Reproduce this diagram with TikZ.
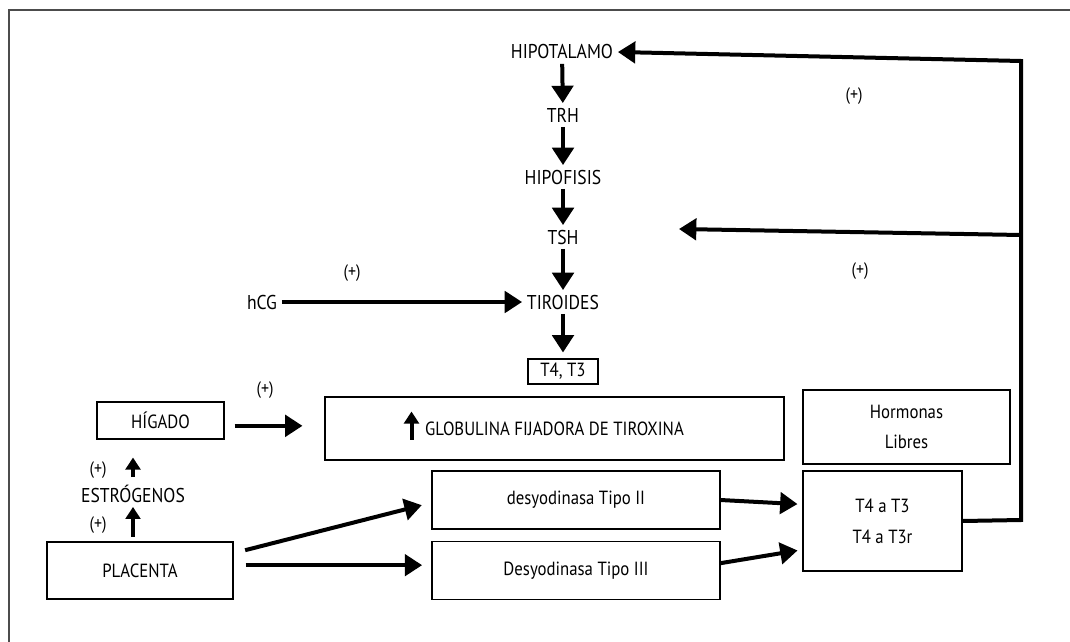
\documentclass[tikz,border=0pt]{standalone}
\usepackage{fontspec}
\setmainfont[FakeStretch=0.88]{PT Sans}
\usetikzlibrary{arrows.meta, positioning, calc}

\begin{document}
\begin{tikzpicture}[
        x=0.75pt, y=-0.75pt,
        >={Triangle[length=13pt,width=16pt]},
        box/.style={
            rectangle,
            draw,
            line width=0.8pt,
            align=center,
            font=\fontsize{14.3}{23}\selectfont
        },
        word/.style={
            inner sep=3.5pt,
            text height=10.5pt,
            text depth=0pt,
            font=\fontsize{15}{18}\selectfont
        },
        sign/.style={font=\fontsize{13.5}{16}\selectfont},
        fat/.style={->, line width=3pt},
        small/.style={-{Triangle[length=9pt,width=11pt]}, line width=3pt}
    ]

    \useasboundingbox (0,0) rectangle (1070,642);
    \draw[gray!60!black, line width=1.5pt] (9,642) -- (9,10) -- (1070,10);

    % Axis
    \node[word] (hipo) at (562,52) {HIPOTALAMO};
    \node[word] (trh) at (563,115) {TRH};
    \node[word] (hipof) at (563,177) {HIPOFISIS};
    \node[word] (tsh) at (563,237) {TSH};
    \node[word] (tir) at (563,302) {TIROIDES};
    \node[word] (hcg) at (262,302) {hCG};
    \node[box, minimum width=52.5pt, minimum height=18.75pt, inner sep=1pt] (t4) at (563,371.5) {T4, T3};

    % Boxes
    \node[box, minimum width=95.25pt, minimum height=27.75pt] (hig) at (160.5,420.5) {HÍGADO};
    \node[word] (est) at (133,495) {ESTRÓGENOS};
    \node[box, minimum width=139.5pt, minimum height=42.75pt] (plac) at (140,570.5) {PLACENTA};
    \node[box, minimum width=344.25pt, minimum height=47.25pt] (glob) at (554.5,428.5) {GLOBULINA FIJADORA DE TIROXINA};
    \node[box, minimum width=155.25pt, minimum height=55.5pt] (libres) at (906.5,427) {Hormonas\\Libres};
    \node[box, minimum width=119.25pt, minimum height=75pt] (conv) at (882.5,521) {T4 a T3\\T4 a T3r};
    \node[box, minimum width=216pt, minimum height=43.5pt] (tipo2) at (576,500) {desyodinasa Tipo II};
    \node[box, minimum width=216pt, minimum height=43.5pt] (tipo3) at (576,570.5) {Desyodinasa Tipo III};

    % Signs
    \node[sign] (s1) at (854,96) {(+)};
    \node[sign] (s2) at (860,271) {(+)};
    \node[sign] (s3) at (352,273) {(+)};
    \node[sign] (s4) at (265,390) {(+)};
    \node[sign] (s5) at (98,470) {(+)};
    \node[sign] (s6) at (98,525) {(+)};

    \coordinate (fbbot) at (1021,520);
    \coordinate (fbmid) at (1021,235);
    \coordinate (fbtop) at (1021,61);
    \coordinate (tshin) at (679,229);

    % Arrows
    \draw[fat] (hipo) -- (trh);
    \draw[fat] (trh) -- (hipof);
    \draw[fat] (hipof) -- (tsh);
    \draw[fat] (tsh) -- (tir);
    \draw[fat, shorten >=4.5pt] (tir) -- (t4);
    \draw[fat] (hcg) -- (tir);
    \draw[fat, line join=miter] (conv.east) -- (fbbot) -- (fbtop) -- (hipo.east);
    \draw[fat] (fbmid) -- (tshin);
    \draw[small, shorten <=3.5pt] (plac.north -| est.south) -- (est.south);
    \draw[small, shorten <=4.5pt, shorten >=13.5pt] (est.north) -- (hig.south -| est.north);
    \draw[fat, shorten <=7.5pt, shorten >=16.5pt] ([yshift=-4pt]hig.east) -- ([yshift=-4pt]hig.east -| glob.west);
    \draw[small] ($(glob.center)+(-143,11)$) -- ($(glob.center)+(-143,-17)$);
    \draw[fat, shorten <=9pt, shorten >=7.5pt] ([yshift=13pt]plac.east) -- ([yshift=-2pt]tipo2.west);
    \draw[fat, shorten <=9pt, shorten >=7pt] ([yshift=4pt]plac.east) -- ([yshift=4pt]plac.east -| tipo3.west);
    \draw[fat, shorten >=3.75pt] (tipo2.east) -- ([yshift=12.5pt]conv.west);
    \draw[fat, shorten >=3.75pt] ([yshift=5.5pt]tipo3.east) -- ([yshift=-21.5pt]conv.west);

\end{tikzpicture}
\end{document}
